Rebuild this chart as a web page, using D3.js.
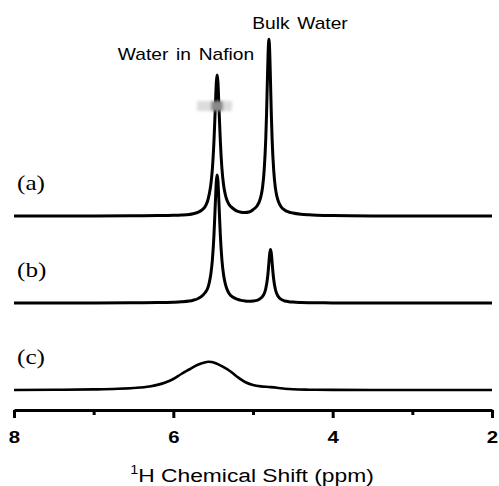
<!DOCTYPE html>
<html>
<head>
<meta charset="utf-8">
<script src="https://cdn.jsdelivr.net/npm/d3@7"></script>
<style>
  body { margin: 0; background: #fff; }
</style>
</head>
<body>
<div id="chart"></div>
<script>
// spectra: chemical shift (ppm) and intensity (arb. units)
const ppmA = [8.0, 7.0, 6.5, 6.2, 6.0, 5.9, 5.8, 5.75, 5.7, 5.65, 5.6, 5.57, 5.55, 5.53, 5.51, 5.49, 5.48, 5.47, 5.46, 5.45,
  5.44, 5.43, 5.42, 5.41, 5.39, 5.37, 5.35, 5.33, 5.3, 5.25, 5.2, 5.15, 5.1, 5.05, 5.0, 4.95, 4.92, 4.9, 4.88, 4.86,
  4.84, 4.83, 4.82, 4.81, 4.8, 4.79, 4.78, 4.77, 4.76, 4.74, 4.72, 4.7, 4.68, 4.65, 4.6, 4.55, 4.5, 4.4, 4.3, 4.2,
  4.0, 3.5, 3.0, 2.0]
const signalA = [0, 0, 0.2, 0.4, 0.7, 1.0, 1.6, 2.3, 3.3, 5.5, 9.5, 15, 21.6, 31, 47, 75, 94, 115, 134, 141,
  134, 115, 94, 75, 47.5, 31.5, 22.3, 16.5, 11.5, 7.5, 4.8, 3.8, 3.5, 4.0, 6.3, 10, 14.5, 19.8, 28.7, 45.7,
  76.7, 101.7, 133.7, 163.7, 176.7, 163.7, 133.6, 101.6, 76.6, 45.6, 28.6, 19.6, 14.3, 9.5, 5.8, 4.0, 3.0, 1.8, 1.2, 0.8,
  0.4, 0.1, 0, 0]

const ppmB = [8.0, 7.0, 6.5, 6.2, 6.0, 5.9, 5.8, 5.75, 5.7, 5.65, 5.6, 5.57, 5.55, 5.53, 5.51, 5.49, 5.48, 5.47, 5.46, 5.45,
  5.44, 5.43, 5.42, 5.41, 5.39, 5.37, 5.35, 5.33, 5.3, 5.25, 5.2, 5.15, 5.1, 5.05, 5.0, 4.95, 4.9, 4.88, 4.86, 4.84,
  4.82, 4.81, 4.8, 4.79, 4.78, 4.77, 4.76, 4.75, 4.74, 4.72, 4.7, 4.68, 4.65, 4.6, 4.55, 4.5, 4.4, 4.3, 4.2, 4.0,
  3.5, 2.0]
const signalB = [0, 0, 0.2, 0.4, 0.8, 1.2, 2.0, 2.8, 4.0, 6.3, 10.5, 14.5, 20, 28.5, 43, 68, 86, 105, 122, 128,
  122, 105, 86, 68, 43, 28.5, 20, 14.5, 9.5, 5.8, 3.8, 2.6, 2.0, 1.8, 2.0, 2.6, 5.0, 6.6, 9.3, 14.3,
  23.7, 31.2, 40.6, 49.6, 53.6, 49.6, 40.6, 31, 23.5, 14, 9, 6.2, 3.8, 2.0, 1.3, 0.9, 0.5, 0.3, 0.2, 0.1,
  0, 0]

const ppmC = [8.0, 7.5, 7.0, 6.7, 6.5, 6.3, 6.1, 6.0, 5.9, 5.8, 5.7, 5.62, 5.56, 5.52, 5.46, 5.38, 5.3, 5.2, 5.1, 5.0,
  4.9, 4.8, 4.7, 4.6, 4.5, 4.3, 4.0, 3.5, 3.0, 2.0]
const signalC = [0, 0.2, 0.6, 1.2, 2.0, 3.5, 7.5, 11, 16, 20.5, 25, 27.3, 28.3, 28, 26.5, 23.3, 19.5, 13.3, 8, 5,
  3.6, 3.0, 2.3, 1.3, 0.7, 0.3, 0.1, 0, 0, 0]

const traceNames = ["(a)", "(b)", "(c)"]
const majorTicks = [8, 6, 4, 2]
const minorTicks = [7, 5, 3]
const peakLabels = ["Water in Nafion", "Bulk Water"]

const size = [499, 486]
const stretch = 1.2   // the figure's lettering is drawn a bit wide
const baselines = [216, 303, 390]
const axisY = 410

const svg = d3.create("svg")
  .attr("width", size[0])
  .attr("height", size[1])
  .style("background", "#fff")

const defs = svg.append("defs")
defs.append("filter")
  .attr("id", "smudge")
  .attr("x", "-50%").attr("y", "-50%").attr("width", "200%").attr("height", "200%")
  .append("feGaussianBlur")
    .attr("stdDeviation", 1.6)

const scaleX = d3.scaleLinear()
  .domain([8, 2])
  .range([14, 492])

const series = [
  {name: traceNames[0], ppm: ppmA, signal: signalA},
  {name: traceNames[1], ppm: ppmB, signal: signalB},
  {name: traceNames[2], ppm: ppmC, signal: signalC},
]

// each trace gets its own vertical offset, same intensity scale
series.forEach((s, i) => {
  const scaleY = d3.scaleLinear()
    .domain([0, 200])
    .range([baselines[i], baselines[i] - 200])

  const line = d3.line()
    .x((d, j) => scaleX(s.ppm[j]))
    .y(d => scaleY(d))
    .curve(d3.curveMonotoneX)

  svg.append("path")
    .datum(s.signal)
    .attr("fill", "none")
    .attr("stroke", "#000")
    .attr("stroke-width", i == 2 ? 2.6 : 3)
    .attr("stroke-linejoin", "round")
    .attr("d", line)

  svg.append("text")
    .attr("transform", `translate(17,${baselines[i] - 26}) scale(${stretch},1)`)
    .attr("font-family", "'Liberation Serif', 'Times New Roman', serif")
    .attr("font-size", 21)
    .attr("fill", "#000")
    .text(s.name)
})

// grey blotch sitting on top of the Nafion peak in (a)
const blotch = svg.append("g").attr("filter", "url(#smudge)")
blotch.append("rect")
  .attr("x", 197).attr("y", 101).attr("width", 35).attr("height", 10)
  .attr("fill", "#dcdcdc")
blotch.append("rect")
  .attr("x", 211).attr("y", 101).attr("width", 12).attr("height", 10)
  .attr("fill", "#8a8a8a")

const textFont = "'Liberation Sans', Arial, sans-serif"

svg.append("text")
  .attr("transform", `translate(186,60) scale(${stretch},1)`)
  .attr("text-anchor", "middle")
  .attr("font-family", textFont)
  .attr("font-size", 16)
  .attr("word-spacing", 2)
  .text(peakLabels[0])

svg.append("text")
  .attr("transform", `translate(300,29) scale(${stretch},1)`)
  .attr("text-anchor", "middle")
  .attr("font-family", textFont)
  .attr("font-size", 16)
  .attr("word-spacing", 2)
  .text(peakLabels[1])

// x axis: long ticks with labels, short ticks between
const xAxis = g => g
  .attr("transform", `translate(0,${axisY})`)
  .call(d3.axisBottom(scaleX)
    .tickValues(majorTicks)
    .tickSize(8)
    .tickSizeOuter(0)
    .tickFormat(d3.format("d")))
  .call(g => g.select(".domain").attr("stroke-width", 3))
  .call(g => g.selectAll(".tick line").attr("stroke-width", 3))
  .call(g => g.selectAll(".tick text")
    .attr("y", 0)
    .attr("dy", 0)
    .attr("transform", `translate(0,33) scale(${stretch},1)`)
    .attr("font-family", textFont)
    .attr("font-size", 17)
    .attr("font-weight", "bold")
    .attr("fill", "#000"))

const xMinor = g => g
  .attr("transform", `translate(0,${axisY})`)
  .call(d3.axisBottom(scaleX)
    .tickValues(minorTicks)
    .tickSize(5)
    .tickSizeOuter(0)
    .tickFormat(""))
  .call(g => g.select(".domain").remove())
  .call(g => g.selectAll(".tick line").attr("stroke-width", 3))

svg.append("g").call(xAxis)
svg.append("g").call(xMinor)

const title = svg.append("text")
  .attr("transform", `translate(252,482) scale(${stretch},1)`)
  .attr("text-anchor", "middle")
  .attr("font-family", textFont)
  .attr("font-size", 19)
title.append("tspan")
  .attr("font-size", 12)
  .attr("dy", -8)
  .text("1")
title.append("tspan")
  .attr("dy", 8)
  .text("H Chemical Shift (ppm)")

d3.select("#chart").append(() => svg.node())
</script>
</body>
</html>
